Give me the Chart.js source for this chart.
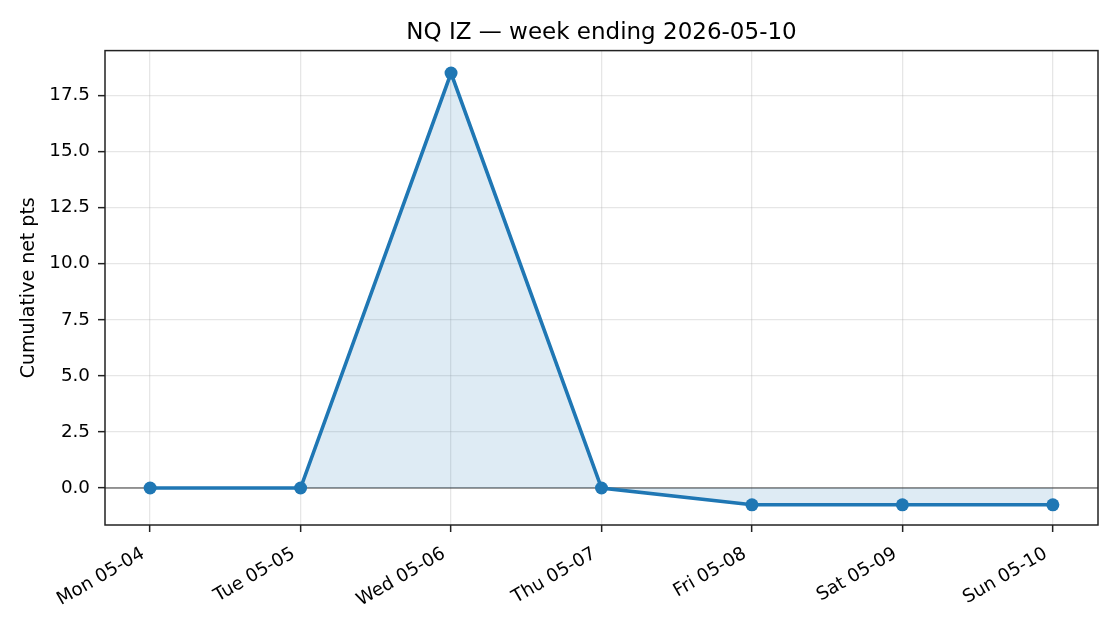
<!DOCTYPE html>
<html>
<head>
<meta charset="utf-8">
<script src="https://cdn.jsdelivr.net/npm/chart.js@4/dist/chart.umd.min.js"></script>
<style>
  html, body { margin: 0; padding: 0; background: #fff; }
  #wrap { width: 1120px; height: 630px; }
</style>
</head>
<body>
<div id="wrap"><canvas id="weekChart" width="1120" height="630"></canvas></div>
<script>
const days = ['Mon 05-04', 'Tue 05-05', 'Wed 05-06', 'Thu 05-07', 'Fri 05-08', 'Sat 05-09', 'Sun 05-10'];
const cumPts = [0, 0, 18.5, 0, -0.75, -0.75, -0.75];
const yTicks = [0, 2.5, 5, 7.5, 10, 12.5, 15, 17.5];
const yMin = -1.65, yMax = 19.5;

const blue = '#1f77b4';
const FONT = "'DejaVu Sans', sans-serif";

// zero line under the data, frame round the plot area on top
const framePlugin = {
    id: 'frame',
    beforeDatasetsDraw(chart) {
        const ctx = chart.ctx;
        const a = chart.chartArea;
        const y0 = chart.scales.y.getPixelForValue(0);
        ctx.save();
        ctx.strokeStyle = 'rgba(0,0,0,0.5)';
        ctx.lineWidth = 1.5;
        ctx.beginPath();
        ctx.moveTo(a.left, y0);
        ctx.lineTo(a.right, y0);
        ctx.stroke();
        ctx.restore();
    },
    afterDatasetsDraw(chart) {
        const ctx = chart.ctx;
        const a = chart.chartArea;
        ctx.save();
        ctx.strokeStyle = '#222';
        ctx.lineWidth = 1.5;
        ctx.strokeRect(a.left, a.top, a.right - a.left, a.bottom - a.top);
        ctx.restore();
    }
};

const ctx = document.getElementById('weekChart').getContext('2d');
const weekChart = new Chart(ctx, {
    type: 'line',
    data: {
        datasets: [{
            data: days.map((d, i) => ({ x: i, y: cumPts[i] })),
            borderColor: blue,
            backgroundColor: 'rgba(31,119,180,0.15)',
            fill: 'origin',
            borderWidth: 3.6,
            pointRadius: 6.5,
            pointHoverRadius: 6.5,
            pointBackgroundColor: blue,
            pointBorderColor: blue,
            pointBorderWidth: 0,
            tension: 0
        }]
    },
    options: {
        responsive: false,
        animation: false,
        layout: { padding: { left: 0, right: 22, top: 0, bottom: 0 } },
        plugins: {
            legend: { display: false },
            tooltip: { enabled: false },
            title: {
                display: true,
                fullSize: false,
                text: 'NQ IZ — week ending 2026-05-10',
                color: '#000',
                font: { family: FONT, size: 23, weight: 'normal' },
                padding: { top: 19, bottom: 4 }
            }
        },
        scales: {
            x: {
                type: 'linear',
                min: -0.3,
                max: 6.3,
                afterBuildTicks: (scale) => {
                    scale.ticks = days.map((d, i) => ({ value: i }));
                },
                afterFit: (scale) => { scale.height = 105; },
                border: { display: false },
                grid: {
                    color: 'rgba(176,176,176,0.32)',
                    lineWidth: 1.3,
                    drawTicks: true,
                    tickLength: 7,
                    tickColor: '#222',
                    tickWidth: 1.5
                },
                ticks: {
                    autoSkip: false,
                    maxRotation: 30,
                    minRotation: 30,
                    padding: 11,
                    labelOffset: -7,
                    color: '#000',
                    font: { family: FONT, size: 18.3 },
                    callback: (v) => days[v]
                }
            },
            y: {
                min: yMin,
                max: yMax,
                afterBuildTicks: (scale) => {
                    scale.ticks = yTicks.map(v => ({ value: v }));
                },
                afterFit: (scale) => { scale.width = 105; },
                border: { display: false },
                grid: {
                    color: 'rgba(176,176,176,0.32)',
                    lineWidth: 1.3,
                    drawTicks: true,
                    tickLength: 7,
                    tickColor: '#222',
                    tickWidth: 1.5
                },
                ticks: {
                    padding: 8,
                    color: '#000',
                    font: { family: FONT, size: 18.3 },
                    callback: (v) => v.toFixed(1)
                },
                title: {
                    display: true,
                    text: 'Cumulative net pts',
                    color: '#000',
                    font: { family: FONT, size: 19 },
                    padding: { top: 18, bottom: 0 }
                }
            }
        }
    },
    plugins: [framePlugin]
});
</script>
</body>
</html>
